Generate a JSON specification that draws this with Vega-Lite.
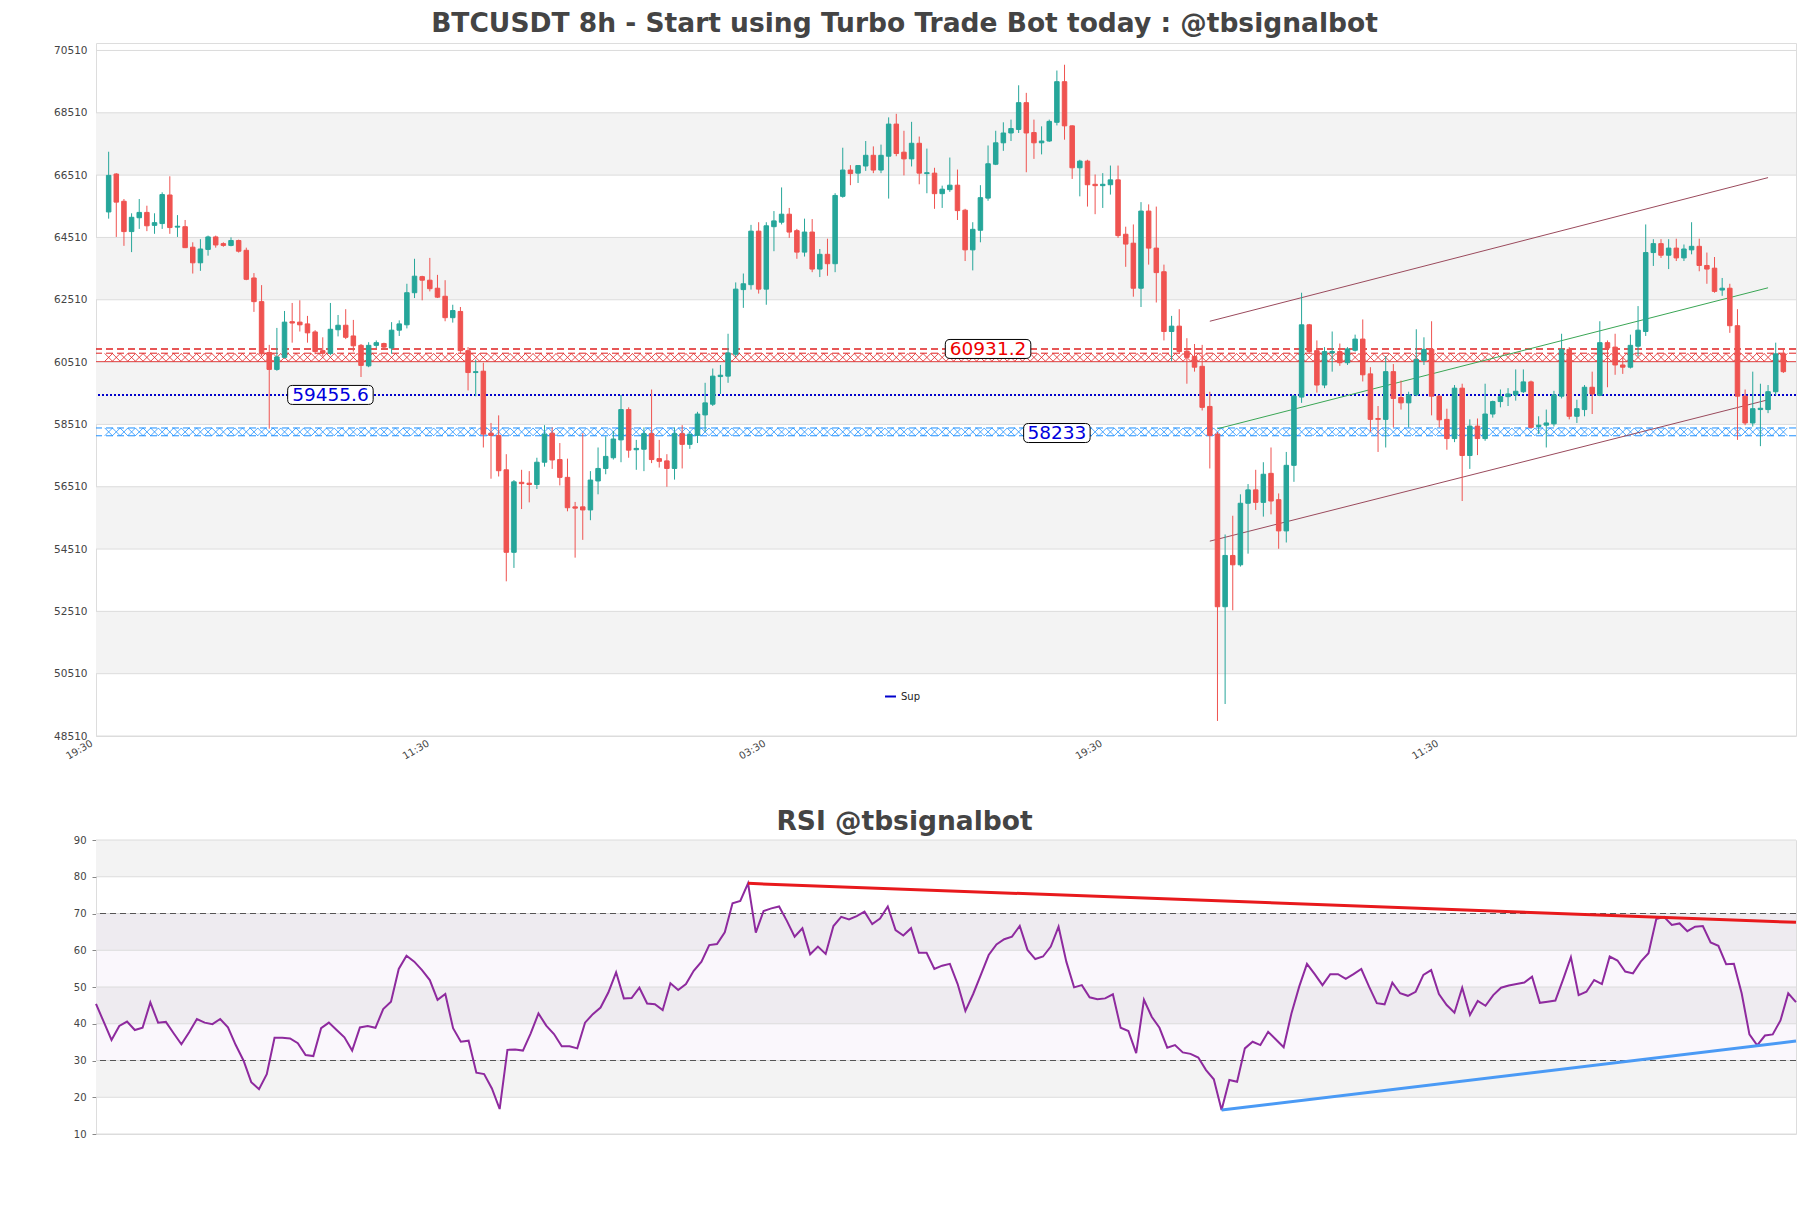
{
"$schema":"https://vega.github.io/schema/vega-lite/v6.json",
"background":"white",
"autosize":{"type":"pad"},
"padding":{"left":53,"top":10,"right":0,"bottom":0},
"config":{"view":{"stroke":"#dddddd","strokeWidth":1},"font":"DejaVu Sans","title":{"font":"DejaVu Sans"}},
"bounds":"flush",
"spacing":104,
"datasets":{
"one":[{}],
"pb":[{"a":50510,"b":52510},{"a":54510,"b":56510},{"a":58510,"b":60510},{"a":62510,"b":64510},{"a":66510,"b":68510}],
"pg":[{"v":48510},{"v":50510},{"v":52510},{"v":54510},{"v":56510},{"v":58510},{"v":60510},{"v":62510},{"v":64510},{"v":66510},{"v":68510},{"v":70510}],
"rb":[{"a":20,"b":30},{"a":40,"b":50},{"a":60,"b":70},{"a":80,"b":90}],
"rz":[{"a":30,"b":70}],
"rd":[{"v":30},{"v":70}],
"rg":[{"v":10},{"v":20},{"v":30},{"v":40},{"v":50},{"v":60},{"v":70},{"v":80},{"v":90}],
"chan":[{"k":"up","i":144,"v":61820},{"k":"up","i":217,"v":66430},{"k":"low","i":144,"v":54763},{"k":"low","i":217,"v":59300},{"k":"mid","i":145,"v":58370},{"k":"mid","i":217,"v":62894}],
"labels":[{"t":"60931.2","i":115,"v":60931.2,"k":"res"},{"t":"59455.6","i":29,"v":59455.6,"k":"sup"},{"t":"58233","i":124,"v":58233,"k":"sup"}],
"rtrend":[{"k":"r","i":84,"v":78.2},{"k":"r","i":219,"v":67.6},{"k":"b","i":145,"v":16.5},{"k":"b","i":219,"v":35.3}],
"candles":[
{"i":0,"o":65328,"h":67260,"l":65113,"c":66502},{"i":1,"o":66545,"h":66573,"l":64526,"c":65643},{"i":2,"o":65671,"h":65743,"l":64240,"c":64698},{"i":3,"o":64698,"h":65285,"l":64039,"c":65156},{"i":4,"o":65142,"h":65743,"l":64784,"c":65313},
{"i":5,"o":65313,"h":65528,"l":64712,"c":64884},{"i":6,"o":64898,"h":65285,"l":64626,"c":64984},{"i":7,"o":64955,"h":65958,"l":64784,"c":65886},{"i":8,"o":65872,"h":66473,"l":64626,"c":64827},{"i":9,"o":64841,"h":65227,"l":64526,"c":64870},
{"i":10,"o":64855,"h":65070,"l":64170,"c":64182},{"i":11,"o":64197,"h":64354,"l":63352,"c":63696},{"i":12,"o":63696,"h":64454,"l":63438,"c":64139},{"i":13,"o":64125,"h":64569,"l":63925,"c":64526},{"i":14,"o":64526,"h":64569,"l":64182,"c":64268},
{"i":15,"o":64311,"h":64354,"l":64211,"c":64254},{"i":16,"o":64254,"h":64512,"l":64225,"c":64411},{"i":17,"o":64411,"h":64440,"l":64025,"c":64068},{"i":18,"o":64097,"h":64182,"l":63138,"c":63166},{"i":19,"o":63209,"h":63366,"l":62121,"c":62450},
{"i":20,"o":62450,"h":62980,"l":60704,"c":60775},{"i":21,"o":60818,"h":61062,"l":58370,"c":60274},{"i":22,"o":60274,"h":61606,"l":60231,"c":60675},{"i":23,"o":60661,"h":62150,"l":60618,"c":61792},{"i":24,"o":61806,"h":62407,"l":61133,"c":61763},
{"i":25,"o":61792,"h":62493,"l":61491,"c":61706},{"i":26,"o":61735,"h":61992,"l":61133,"c":61448},{"i":27,"o":61477,"h":61534,"l":60761,"c":60847},{"i":28,"o":60876,"h":61305,"l":60704,"c":60790},{"i":29,"o":60790,"h":62407,"l":60732,"c":61563},
{"i":30,"o":61548,"h":62021,"l":61334,"c":61692},{"i":31,"o":61692,"h":62207,"l":61248,"c":61305},{"i":32,"o":61348,"h":61863,"l":60847,"c":61033},{"i":33,"o":61047,"h":61090,"l":60031,"c":60403},{"i":34,"o":60389,"h":61148,"l":60346,"c":61047},
{"i":35,"o":61047,"h":61205,"l":60961,"c":61133},{"i":36,"o":61105,"h":61133,"l":60918,"c":60990},{"i":37,"o":60961,"h":61792,"l":60775,"c":61534},{"i":38,"o":61534,"h":61849,"l":61348,"c":61735},{"i":39,"o":61706,"h":63023,"l":61591,"c":62736},
{"i":40,"o":62736,"h":63825,"l":62565,"c":63266},{"i":41,"o":63252,"h":63280,"l":62493,"c":63138},{"i":42,"o":63138,"h":63853,"l":62779,"c":62865},{"i":43,"o":62880,"h":63309,"l":62565,"c":62593},{"i":44,"o":62622,"h":63138,"l":61820,"c":61935},
{"i":45,"o":61935,"h":62350,"l":61777,"c":62164},{"i":46,"o":62135,"h":62278,"l":60775,"c":60876},{"i":47,"o":60876,"h":60990,"l":59601,"c":60174},{"i":48,"o":60174,"h":60589,"l":59415,"c":60203},{"i":49,"o":60217,"h":60489,"l":57769,"c":58198},
{"i":50,"o":58227,"h":58556,"l":56767,"c":58156},{"i":51,"o":58156,"h":58800,"l":56838,"c":57024},{"i":52,"o":57053,"h":57554,"l":53474,"c":54405},{"i":53,"o":54405,"h":56724,"l":53904,"c":56667},{"i":54,"o":56652,"h":57053,"l":55793,"c":56609},
{"i":55,"o":56624,"h":57010,"l":56008,"c":56581},{"i":56,"o":56581,"h":57440,"l":56437,"c":57296},{"i":57,"o":57296,"h":58485,"l":57153,"c":58198},{"i":58,"o":58227,"h":58413,"l":57082,"c":57368},{"i":59,"o":57382,"h":57912,"l":56552,"c":56810},
{"i":60,"o":56810,"h":57411,"l":55721,"c":55836},{"i":61,"o":55864,"h":56022,"l":54233,"c":55822},{"i":62,"o":55864,"h":58227,"l":54805,"c":55765},{"i":63,"o":55765,"h":57010,"l":55435,"c":56724},{"i":64,"o":56695,"h":57769,"l":56266,"c":57096},
{"i":65,"o":57096,"h":58127,"l":56910,"c":57483},{"i":66,"o":57440,"h":58299,"l":57382,"c":58041},{"i":67,"o":58013,"h":59458,"l":57296,"c":58986},{"i":68,"o":58986,"h":59057,"l":57440,"c":57683},{"i":69,"o":57697,"h":58013,"l":57053,"c":57740},
{"i":70,"o":57712,"h":58413,"l":57010,"c":58213},{"i":71,"o":58213,"h":59630,"l":57268,"c":57382},{"i":72,"o":57411,"h":58013,"l":57125,"c":57325},{"i":73,"o":57339,"h":57554,"l":56509,"c":57096},{"i":74,"o":57096,"h":58413,"l":56738,"c":58213},
{"i":75,"o":58213,"h":58485,"l":57096,"c":57869},{"i":76,"o":57869,"h":58270,"l":57726,"c":58184},{"i":77,"o":58156,"h":58914,"l":57912,"c":58843},{"i":78,"o":58814,"h":59845,"l":58270,"c":59201},{"i":79,"o":59158,"h":60303,"l":59100,"c":60059},
{"i":80,"o":60045,"h":60417,"l":59487,"c":60088},{"i":81,"o":60059,"h":61419,"l":59845,"c":60804},{"i":82,"o":60761,"h":63066,"l":60675,"c":62851},{"i":83,"o":62836,"h":63352,"l":62250,"c":63023},{"i":84,"o":62994,"h":64913,"l":62836,"c":64712},
{"i":85,"o":64712,"h":64998,"l":62708,"c":62851},{"i":86,"o":62851,"h":64998,"l":62350,"c":64884},{"i":87,"o":64855,"h":65356,"l":64068,"c":65041},{"i":88,"o":64998,"h":66115,"l":64927,"c":65256},{"i":89,"o":65256,"h":65457,"l":64497,"c":64683},
{"i":90,"o":64727,"h":64784,"l":63825,"c":64039},{"i":91,"o":64039,"h":65113,"l":63896,"c":64683},{"i":92,"o":64683,"h":65099,"l":63395,"c":63495},{"i":93,"o":63495,"h":64139,"l":63238,"c":63968},{"i":94,"o":63968,"h":64469,"l":63280,"c":63667},
{"i":95,"o":63667,"h":65929,"l":63395,"c":65857},{"i":96,"o":65829,"h":67389,"l":65786,"c":66673},{"i":97,"o":66673,"h":66831,"l":66187,"c":66559},{"i":98,"o":66573,"h":66817,"l":66258,"c":66817},{"i":99,"o":66802,"h":67604,"l":66645,"c":67146},
{"i":100,"o":67146,"h":67432,"l":66573,"c":66673},{"i":101,"o":66673,"h":67489,"l":66573,"c":67146},{"i":102,"o":67117,"h":68363,"l":65757,"c":68148},{"i":103,"o":68148,"h":68477,"l":67117,"c":67203},{"i":104,"o":67246,"h":67933,"l":66502,"c":67031},
{"i":105,"o":67031,"h":68220,"l":66788,"c":67532},{"i":106,"o":67532,"h":67747,"l":66215,"c":66573},{"i":107,"o":66559,"h":67361,"l":65929,"c":66588},{"i":108,"o":66573,"h":66745,"l":65428,"c":65915},{"i":109,"o":65915,"h":66172,"l":65457,"c":66058},
{"i":110,"o":66044,"h":67074,"l":65972,"c":66187},{"i":111,"o":66187,"h":66688,"l":65070,"c":65371},{"i":112,"o":65385,"h":65428,"l":63753,"c":64111},{"i":113,"o":64111,"h":64998,"l":63452,"c":64770},{"i":114,"o":64741,"h":66187,"l":64354,"c":65786},
{"i":115,"o":65772,"h":67461,"l":65686,"c":66874},{"i":116,"o":66859,"h":67933,"l":66831,"c":67547},{"i":117,"o":67547,"h":68205,"l":67289,"c":67862},{"i":118,"o":67862,"h":68291,"l":67604,"c":68005},{"i":119,"o":67976,"h":69393,"l":67862,"c":68835},
{"i":120,"o":68835,"h":69150,"l":66602,"c":67862},{"i":121,"o":67876,"h":68291,"l":67031,"c":67547},{"i":122,"o":67547,"h":68076,"l":67175,"c":67604},{"i":123,"o":67604,"h":68291,"l":67575,"c":68234},{"i":124,"o":68205,"h":69866,"l":68105,"c":69508},
{"i":125,"o":69508,"h":70052,"l":67647,"c":68091},{"i":126,"o":68091,"h":68105,"l":66387,"c":66745},{"i":127,"o":66745,"h":67003,"l":65829,"c":66960},{"i":128,"o":66960,"h":67003,"l":65500,"c":66201},{"i":129,"o":66215,"h":66530,"l":65256,"c":66172},
{"i":130,"o":66172,"h":66573,"l":65457,"c":66215},{"i":131,"o":66201,"h":66817,"l":65886,"c":66358},{"i":132,"o":66358,"h":66817,"l":64497,"c":64569},{"i":133,"o":64612,"h":64855,"l":63567,"c":64297},{"i":134,"o":64326,"h":64927,"l":62608,"c":62880},
{"i":135,"o":62880,"h":65643,"l":62278,"c":65356},{"i":136,"o":65356,"h":65571,"l":63638,"c":64168},{"i":137,"o":64168,"h":65500,"l":62422,"c":63381},{"i":138,"o":63409,"h":63638,"l":61205,"c":61491},{"i":139,"o":61491,"h":61992,"l":60532,"c":61663},
{"i":140,"o":61663,"h":62207,"l":60775,"c":60847},{"i":141,"o":60861,"h":61276,"l":59816,"c":60661},{"i":142,"o":60690,"h":61090,"l":60203,"c":60346},{"i":143,"o":60374,"h":61062,"l":58957,"c":59057},{"i":144,"o":59086,"h":59559,"l":57096,"c":58156},
{"i":145,"o":58198,"h":58270,"l":48993,"c":52658},{"i":146,"o":52658,"h":54977,"l":49537,"c":54304},{"i":147,"o":54304,"h":55578,"l":52544,"c":54004},{"i":148,"o":54004,"h":56266,"l":53947,"c":55979},{"i":149,"o":55979,"h":56595,"l":54362,"c":56409},
{"i":150,"o":56409,"h":57053,"l":55765,"c":56008},{"i":151,"o":56008,"h":57296,"l":55550,"c":56910},{"i":152,"o":56939,"h":57769,"l":55622,"c":56051},{"i":153,"o":56094,"h":56294,"l":54519,"c":55092},{"i":154,"o":55092,"h":57626,"l":54720,"c":57196},
{"i":155,"o":57196,"h":59458,"l":56667,"c":59415},{"i":156,"o":59387,"h":62736,"l":59201,"c":61706},{"i":157,"o":61706,"h":61735,"l":60775,"c":60847},{"i":158,"o":60876,"h":61205,"l":59530,"c":59773},{"i":159,"o":59773,"h":60990,"l":59673,"c":60847},
{"i":160,"o":60804,"h":61491,"l":60203,"c":60847},{"i":161,"o":60847,"h":61105,"l":60389,"c":60489},{"i":162,"o":60489,"h":60990,"l":60417,"c":60933},{"i":163,"o":60890,"h":61391,"l":60847,"c":61248},{"i":164,"o":61248,"h":61878,"l":59888,"c":60102},
{"i":165,"o":60131,"h":60346,"l":58270,"c":58671},{"i":166,"o":58700,"h":59100,"l":57626,"c":58671},{"i":167,"o":58671,"h":60704,"l":57769,"c":60203},{"i":168,"o":60203,"h":60446,"l":58413,"c":59344},{"i":169,"o":59372,"h":59916,"l":58986,"c":59201},
{"i":170,"o":59201,"h":59559,"l":58413,"c":59458},{"i":171,"o":59458,"h":61563,"l":59415,"c":60589},{"i":172,"o":60560,"h":61305,"l":60417,"c":60918},{"i":173,"o":60918,"h":61820,"l":58800,"c":59415},{"i":174,"o":59415,"h":59458,"l":58413,"c":58657},
{"i":175,"o":58671,"h":59014,"l":57697,"c":58055},{"i":176,"o":58055,"h":59773,"l":57941,"c":59673},{"i":177,"o":59673,"h":59816,"l":56051,"c":57511},{"i":178,"o":57511,"h":58671,"l":57082,"c":58456},{"i":179,"o":58456,"h":58700,"l":57525,"c":58055},
{"i":180,"o":58055,"h":59816,"l":57984,"c":58843},{"i":181,"o":58843,"h":59272,"l":58728,"c":59243},{"i":182,"o":59243,"h":59630,"l":59057,"c":59401},{"i":183,"o":59401,"h":59673,"l":59100,"c":59487},{"i":184,"o":59458,"h":60274,"l":59272,"c":59573},
{"i":185,"o":59559,"h":60274,"l":59516,"c":59874},{"i":186,"o":59874,"h":59916,"l":58385,"c":58413},{"i":187,"o":58442,"h":58771,"l":58198,"c":58485},{"i":188,"o":58485,"h":58986,"l":57769,"c":58556},{"i":189,"o":58528,"h":59587,"l":58442,"c":59458},
{"i":190,"o":59415,"h":61419,"l":59344,"c":60918},{"i":191,"o":60918,"h":60990,"l":58671,"c":58771},{"i":192,"o":58771,"h":59301,"l":58556,"c":59014},{"i":193,"o":58986,"h":59773,"l":58771,"c":59702},{"i":194,"o":59702,"h":60203,"l":58843,"c":59487},
{"i":195,"o":59444,"h":61820,"l":59415,"c":61133},{"i":196,"o":61133,"h":61205,"l":59702,"c":60961},{"i":197,"o":60990,"h":61419,"l":60102,"c":60417},{"i":198,"o":60417,"h":60675,"l":60131,"c":60346},{"i":199,"o":60346,"h":61391,"l":60303,"c":61047},
{"i":200,"o":61019,"h":62307,"l":60704,"c":61534},{"i":201,"o":61491,"h":64927,"l":61348,"c":64025},{"i":202,"o":64025,"h":64454,"l":63595,"c":64311},{"i":203,"o":64311,"h":64454,"l":63853,"c":63939},{"i":204,"o":63939,"h":64454,"l":63495,"c":64168},
{"i":205,"o":64168,"h":64469,"l":63753,"c":63853},{"i":206,"o":63853,"h":64283,"l":63753,"c":64139},{"i":207,"o":64111,"h":64998,"l":63968,"c":64225},{"i":208,"o":64225,"h":64469,"l":63424,"c":63610},{"i":209,"o":63610,"h":64025,"l":63023,"c":63495},
{"i":210,"o":63524,"h":63882,"l":62736,"c":62779},{"i":211,"o":62822,"h":63209,"l":62636,"c":62880},{"i":212,"o":62880,"h":63023,"l":61448,"c":61677},{"i":213,"o":61677,"h":62207,"l":58013,"c":59415},{"i":214,"o":59415,"h":59630,"l":58485,"c":58556},
{"i":215,"o":58556,"h":60203,"l":58442,"c":59014},{"i":216,"o":58986,"h":59816,"l":57812,"c":59028},{"i":217,"o":58986,"h":59773,"l":58871,"c":59559},{"i":218,"o":59559,"h":61133,"l":59444,"c":60775},{"i":219,"o":60775,"h":60961,"l":60160,"c":60203}
],
"rsi":[
{"i":0,"v":45.4},{"i":1,"v":40.5},{"i":2,"v":35.6},{"i":3,"v":39.4},{"i":4,"v":40.6},{"i":5,"v":38.3},{"i":6,"v":38.9},{"i":7,"v":45.8},{"i":8,"v":40.3},{"i":9,"v":40.5},
{"i":10,"v":37.4},{"i":11,"v":34.4},{"i":12,"v":37.7},{"i":13,"v":41.3},{"i":14,"v":40.3},{"i":15,"v":39.9},{"i":16,"v":41.3},{"i":17,"v":39.0},{"i":18,"v":34.2},{"i":19,"v":30.0},
{"i":20,"v":24.1},{"i":21,"v":22.2},{"i":22,"v":26.3},{"i":23,"v":36.2},{"i":24,"v":36.2},{"i":25,"v":36.0},{"i":26,"v":34.7},{"i":27,"v":31.5},{"i":28,"v":31.2},{"i":29,"v":38.8},
{"i":30,"v":40.3},{"i":31,"v":38.3},{"i":32,"v":36.3},{"i":33,"v":32.7},{"i":34,"v":39.0},{"i":35,"v":39.4},{"i":36,"v":38.9},{"i":37,"v":44.0},{"i":38,"v":46.0},{"i":39,"v":54.9},
{"i":40,"v":58.5},{"i":41,"v":56.9},{"i":42,"v":54.6},{"i":43,"v":51.9},{"i":44,"v":46.5},{"i":45,"v":48.1},{"i":46,"v":38.8},{"i":47,"v":35.1},{"i":48,"v":35.4},{"i":49,"v":26.7},
{"i":50,"v":26.3},{"i":51,"v":22.4},{"i":52,"v":16.8},{"i":53,"v":32.9},{"i":54,"v":33.0},{"i":55,"v":32.7},{"i":56,"v":37.4},{"i":57,"v":42.8},{"i":58,"v":39.5},{"i":59,"v":37.2},
{"i":60,"v":33.9},{"i":61,"v":33.9},{"i":62,"v":33.3},{"i":63,"v":40.3},{"i":64,"v":42.6},{"i":65,"v":44.4},{"i":66,"v":48.5},{"i":67,"v":54.0},{"i":68,"v":46.9},{"i":69,"v":47.0},
{"i":70,"v":49.8},{"i":71,"v":45.5},{"i":72,"v":45.3},{"i":73,"v":43.7},{"i":74,"v":51.0},{"i":75,"v":49.2},{"i":76,"v":50.8},{"i":77,"v":54.4},{"i":78,"v":56.9},{"i":79,"v":61.4},
{"i":80,"v":61.7},{"i":81,"v":64.9},{"i":82,"v":72.8},{"i":83,"v":73.4},{"i":84,"v":78.2},{"i":85,"v":64.8},{"i":86,"v":70.7},{"i":87,"v":71.4},{"i":88,"v":71.9},{"i":89,"v":68.0},
{"i":90,"v":63.7},{"i":91,"v":66.0},{"i":92,"v":58.9},{"i":93,"v":61.0},{"i":94,"v":59.0},{"i":95,"v":66.6},{"i":96,"v":69.1},{"i":97,"v":68.4},{"i":98,"v":69.3},{"i":99,"v":70.5},
{"i":100,"v":67.1},{"i":101,"v":68.6},{"i":102,"v":71.9},{"i":103,"v":65.5},{"i":104,"v":64.0},{"i":105,"v":66.0},{"i":106,"v":59.3},{"i":107,"v":59.3},{"i":108,"v":54.9},{"i":109,"v":55.8},
{"i":110,"v":56.3},{"i":111,"v":50.8},{"i":112,"v":43.5},{"i":113,"v":48.1},{"i":114,"v":53.4},{"i":115,"v":58.7},{"i":116,"v":61.6},{"i":117,"v":63.0},{"i":118,"v":63.7},{"i":119,"v":66.6},
{"i":120,"v":60.1},{"i":121,"v":57.6},{"i":122,"v":58.3},{"i":123,"v":61.0},{"i":124,"v":66.4},{"i":125,"v":56.9},{"i":126,"v":49.9},{"i":127,"v":50.5},{"i":128,"v":47.2},{"i":129,"v":46.7},
{"i":130,"v":46.9},{"i":131,"v":48.0},{"i":132,"v":38.9},{"i":133,"v":38.0},{"i":134,"v":32.0},{"i":135,"v":46.5},{"i":136,"v":41.9},{"i":137,"v":38.9},{"i":138,"v":33.5},{"i":139,"v":34.2},
{"i":140,"v":32.2},{"i":141,"v":31.8},{"i":142,"v":30.8},{"i":143,"v":27.4},{"i":144,"v":24.9},{"i":145,"v":16.5},{"i":146,"v":24.7},{"i":147,"v":24.2},{"i":148,"v":33.3},{"i":149,"v":35.1},
{"i":150,"v":34.2},{"i":151,"v":37.8},{"i":152,"v":35.7},{"i":153,"v":33.6},{"i":154,"v":42.8},{"i":155,"v":50.1},{"i":156,"v":56.3},{"i":157,"v":53.5},{"i":158,"v":50.5},{"i":159,"v":53.5},
{"i":160,"v":53.5},{"i":161,"v":52.2},{"i":162,"v":53.5},{"i":163,"v":54.9},{"i":164,"v":50.1},{"i":165,"v":45.6},{"i":166,"v":45.3},{"i":167,"v":51.2},{"i":168,"v":48.3},{"i":169,"v":47.6},
{"i":170,"v":48.7},{"i":171,"v":53.3},{"i":172,"v":54.6},{"i":173,"v":48.1},{"i":174,"v":45.1},{"i":175,"v":43.0},{"i":176,"v":49.8},{"i":177,"v":42.4},{"i":178,"v":46.2},{"i":179,"v":44.9},
{"i":180,"v":47.8},{"i":181,"v":49.8},{"i":182,"v":50.4},{"i":183,"v":50.8},{"i":184,"v":51.2},{"i":185,"v":52.8},{"i":186,"v":45.7},{"i":187,"v":46.0},{"i":188,"v":46.3},{"i":189,"v":52.1},
{"i":190,"v":58.1},{"i":191,"v":47.8},{"i":192,"v":48.7},{"i":193,"v":51.9},{"i":194,"v":50.8},{"i":195,"v":58.3},{"i":196,"v":57.2},{"i":197,"v":54.2},{"i":198,"v":53.7},{"i":199,"v":56.9},
{"i":200,"v":59.2},{"i":201,"v":68.5},{"i":202,"v":69.1},{"i":203,"v":66.9},{"i":204,"v":67.3},{"i":205,"v":65.2},{"i":206,"v":66.4},{"i":207,"v":66.6},{"i":208,"v":62.1},{"i":209,"v":61.2},
{"i":210,"v":56.2},{"i":211,"v":56.3},{"i":212,"v":48.3},{"i":213,"v":37.1},{"i":214,"v":34.1},{"i":215,"v":36.8},{"i":216,"v":37.1},{"i":217,"v":40.9},{"i":218,"v":48.3},{"i":219,"v":45.9}
]
},
"vconcat":[
{
"width":1700,"height":693,
"title":{"text":"BTCUSDT 8h - Start using Turbo Trade Bot today : @tbsignalbot","fontSize":26.5,"fontWeight":"bold","color":"#444444","offset":5.6,"anchor":"middle","frame":"group","dx":-41.5},
"layer":[
{"data":{"name":"pb"},"mark":{"type":"rect","color":"#f3f3f3"},
 "encoding":{"y":{"field":"a","type":"quantitative","scale":{"domain":[48510,70750],"nice":false,"zero":false},
   "axis":{"values":[48510,50510,52510,54510,56510,58510,60510,62510,64510,66510,68510,70510],"format":"d","title":null,"ticks":false,"domain":false,"grid":false,"labelOverlap":false,"labelFontSize":10.5,"labelColor":"#444444","labelPadding":9}},
   "y2":{"field":"b"}}},
{"data":{"name":"pg"},"mark":{"type":"rule","color":"#dcdcdc","strokeWidth":1},"encoding":{"y":{"field":"v","type":"quantitative"}}},
{"data":{"name":"candles"},"mark":{"type":"point","shape":"M-1,-1L1,1M-1,1L1,-1","size":64,"filled":false,"stroke":"#e02020","strokeWidth":0.8,"opacity":1},
 "encoding":{"x":{"field":"i","type":"quantitative","scale":{"domain":[-1,220],"nice":false,"zero":false},
   "axis":{"values":[-1,43,87,131,175],"labelExpr":"datum.value == -1 ? '19:30' : datum.value == 43 ? '11:30' : datum.value == 87 ? '03:30' : datum.value == 131 ? '19:30' : '11:30'","title":null,"ticks":false,"domain":false,"grid":false,"labelOverlap":false,"labelAngle":-30,"labelAlign":"right","labelBaseline":"top","labelFontSize":10,"labelColor":"#444444","labelPadding":2,"labelOffset":-12}},
   "y":{"datum":60660,"type":"quantitative"}}},
{"data":{"name":"candles"},"mark":{"type":"point","shape":"M-1,-1L1,1M-1,1L1,-1","size":64,"filled":false,"stroke":"#1e90ff","strokeWidth":0.8,"opacity":1},
 "encoding":{"x":{"field":"i","type":"quantitative"},"y":{"datum":58270,"type":"quantitative"}}},
{"data":{"name":"one"},"mark":{"type":"rule","color":"#e02020","strokeWidth":1.5,"strokeDash":[7,4]},"encoding":{"y":{"datum":60931.2,"type":"quantitative"}}},
{"data":{"name":"one"},"mark":{"type":"rule","color":"#e02020","strokeWidth":1,"strokeDash":[7,4]},"encoding":{"y":{"datum":60795,"type":"quantitative"}}},
{"data":{"name":"one"},"mark":{"type":"rule","color":"#e02020","strokeWidth":0.8},"encoding":{"y":{"datum":60525,"type":"quantitative"}}},
{"data":{"name":"one"},"mark":{"type":"rule","color":"#1e90ff","strokeWidth":1,"strokeDash":[7,4]},"encoding":{"y":{"datum":58395,"type":"quantitative"}}},
{"data":{"name":"one"},"mark":{"type":"rule","color":"#1e90ff","strokeWidth":1,"strokeDash":[7,4]},"encoding":{"y":{"datum":58145,"type":"quantitative"}}},
{"data":{"name":"one"},"mark":{"type":"rule","strokeWidth":2,"strokeDash":[2,2]},
 "encoding":{"y":{"datum":59455.6,"type":"quantitative"},
   "color":{"datum":"Sup","type":"nominal","scale":{"range":["#0000cc"]},"legend":{"orient":"none","legendX":788,"legendY":647,"title":null,"symbolType":"stroke","symbolStrokeWidth":2,"symbolSize":120,"symbolDash":[1,0],"labelFontSize":10,"labelColor":"#222222","padding":0}}}},
{"data":{"name":"chan"},"transform":[{"filter":"datum.k == 'up'"}],"mark":{"type":"line","color":"#9a4a5c","strokeWidth":1},"encoding":{"x":{"field":"i","type":"quantitative"},"y":{"field":"v","type":"quantitative"}}},
{"data":{"name":"chan"},"transform":[{"filter":"datum.k == 'low'"}],"mark":{"type":"line","color":"#9a4a5c","strokeWidth":1},"encoding":{"x":{"field":"i","type":"quantitative"},"y":{"field":"v","type":"quantitative"}}},
{"data":{"name":"chan"},"transform":[{"filter":"datum.k == 'mid'"}],"mark":{"type":"line","color":"#3aa655","strokeWidth":1},"encoding":{"x":{"field":"i","type":"quantitative"},"y":{"field":"v","type":"quantitative"}}},
{"data":{"name":"candles"},"mark":{"type":"rule","strokeWidth":1},
 "encoding":{"x":{"field":"i","type":"quantitative"},"y":{"field":"l","type":"quantitative"},"y2":{"field":"h"},
   "stroke":{"condition":{"test":"datum.c >= datum.o","value":"#26a69a"},"value":"#ef5350"}}},
{"data":{"name":"candles"},"mark":{"type":"bar","width":4.5,"strokeWidth":1},
 "encoding":{"x":{"field":"i","type":"quantitative"},"y":{"field":"o","type":"quantitative"},"y2":{"field":"c"},
   "fill":{"condition":{"test":"datum.c >= datum.o","value":"#26a69a"},"value":"#ef5350"},
   "stroke":{"condition":{"test":"datum.c >= datum.o","value":"#26a69a"},"value":"#ef5350"}}},
{"data":{"name":"labels"},"mark":{"type":"point","filled":true,"fill":"white","stroke":"black","strokeWidth":1,"size":361,"opacity":1},
 "encoding":{"x":{"field":"i","type":"quantitative"},"y":{"field":"v","type":"quantitative"},
   "shape":{"field":"t","type":"nominal","legend":null,"scale":{"domain":["60931.2","59455.6","58233"],"range":["M-4,-1L4,-1Q4.5,-1 4.5,-0.5L4.5,0.5Q4.5,1 4,1L-4,1Q-4.5,1 -4.5,0.5L-4.5,-0.5Q-4.5,-1 -4,-1Z","M-4,-1L4,-1Q4.5,-1 4.5,-0.5L4.5,0.5Q4.5,1 4,1L-4,1Q-4.5,1 -4.5,0.5L-4.5,-0.5Q-4.5,-1 -4,-1Z","M-3,-1L3,-1Q3.5,-1 3.5,-0.5L3.5,0.5Q3.5,1 3,1L-3,1Q-3.5,1 -3.5,0.5L-3.5,-0.5Q-3.5,-1 -3,-1Z"]}}}},
{"data":{"name":"labels"},"mark":{"type":"text","fontSize":18.5,"align":"center","baseline":"middle","font":"DejaVu Sans"},
 "encoding":{"x":{"field":"i","type":"quantitative"},"y":{"field":"v","type":"quantitative"},"text":{"field":"t"},
   "fill":{"condition":{"test":"datum.k == 'res'","value":"#ee0000"},"value":"#0000dd"}}}
]
},
{
"width":1700,"height":294,
"title":{"text":"RSI @tbsignalbot","fontSize":26.5,"fontWeight":"bold","color":"#444444","offset":0,"anchor":"middle","frame":"group","dx":-41.5},
"layer":[
{"data":{"name":"rb"},"mark":{"type":"rect","color":"#f3f3f3"},
 "encoding":{"y":{"field":"a","type":"quantitative","scale":{"domain":[10,90],"nice":false,"zero":false},
   "axis":{"values":[10,20,30,40,50,60,70,80,90],"format":"d","title":null,"ticks":true,"tickSize":4,"tickColor":"#888888","domain":false,"grid":false,"labelOverlap":false,"labelSeparation":-60,"labelFontSize":10,"labelColor":"#444444","labelPadding":6}},
   "y2":{"field":"b"}}},
{"data":{"name":"rz"},"mark":{"type":"rect","color":"#a060c0","opacity":0.05},"encoding":{"y":{"field":"a","type":"quantitative",
   "axis":{"values":[10,20,30,40,50,60,70,80,90],"format":"d","title":null,"ticks":true,"tickSize":4,"tickColor":"#888888","domain":false,"grid":false,"labelOverlap":false,"labelSeparation":-60,"labelFontSize":10,"labelColor":"#444444","labelPadding":6}},"y2":{"field":"b"}}},
{"data":{"name":"rg"},"mark":{"type":"rule","color":"#dcdcdc","strokeWidth":1},"encoding":{"y":{"field":"v","type":"quantitative",
   "axis":{"values":[10,20,30,40,50,60,70,80,90],"format":"d","title":null,"ticks":true,"tickSize":4,"tickColor":"#888888","domain":false,"grid":false,"labelOverlap":false,"labelSeparation":-60,"labelFontSize":10,"labelColor":"#444444","labelPadding":6}}}},
{"data":{"name":"rd"},"mark":{"type":"rule","color":"#555555","strokeWidth":1.2,"strokeDash":[6,4]},"encoding":{"y":{"field":"v","type":"quantitative",
   "axis":{"values":[10,20,30,40,50,60,70,80,90],"format":"d","title":null,"ticks":true,"tickSize":4,"tickColor":"#888888","domain":false,"grid":false,"labelOverlap":false,"labelSeparation":-60,"labelFontSize":10,"labelColor":"#444444","labelPadding":6}}}},
{"data":{"name":"rsi"},"mark":{"type":"line","color":"#8e2a9e","strokeWidth":2},
 "encoding":{"x":{"field":"i","type":"quantitative","scale":{"domain":[0,219],"nice":false,"zero":false},"axis":null},"y":{"field":"v","type":"quantitative",
   "axis":{"values":[10,20,30,40,50,60,70,80,90],"format":"d","title":null,"ticks":true,"tickSize":4,"tickColor":"#888888","domain":false,"grid":false,"labelOverlap":false,"labelSeparation":-60,"labelFontSize":10,"labelColor":"#444444","labelPadding":6}}}},
{"data":{"name":"rtrend"},"transform":[{"filter":"datum.k == 'r'"}],"mark":{"type":"line","color":"#e8191c","strokeWidth":3},"encoding":{"x":{"field":"i","type":"quantitative","axis":null},"y":{"field":"v","type":"quantitative",
   "axis":{"values":[10,20,30,40,50,60,70,80,90],"format":"d","title":null,"ticks":true,"tickSize":4,"tickColor":"#888888","domain":false,"grid":false,"labelOverlap":false,"labelSeparation":-60,"labelFontSize":10,"labelColor":"#444444","labelPadding":6}}}},
{"data":{"name":"rtrend"},"transform":[{"filter":"datum.k == 'b'"}],"mark":{"type":"line","color":"#4a9af5","strokeWidth":3},"encoding":{"x":{"field":"i","type":"quantitative","axis":null},"y":{"field":"v","type":"quantitative",
   "axis":{"values":[10,20,30,40,50,60,70,80,90],"format":"d","title":null,"ticks":true,"tickSize":4,"tickColor":"#888888","domain":false,"grid":false,"labelOverlap":false,"labelSeparation":-60,"labelFontSize":10,"labelColor":"#444444","labelPadding":6}}}}
]
}
]
}
